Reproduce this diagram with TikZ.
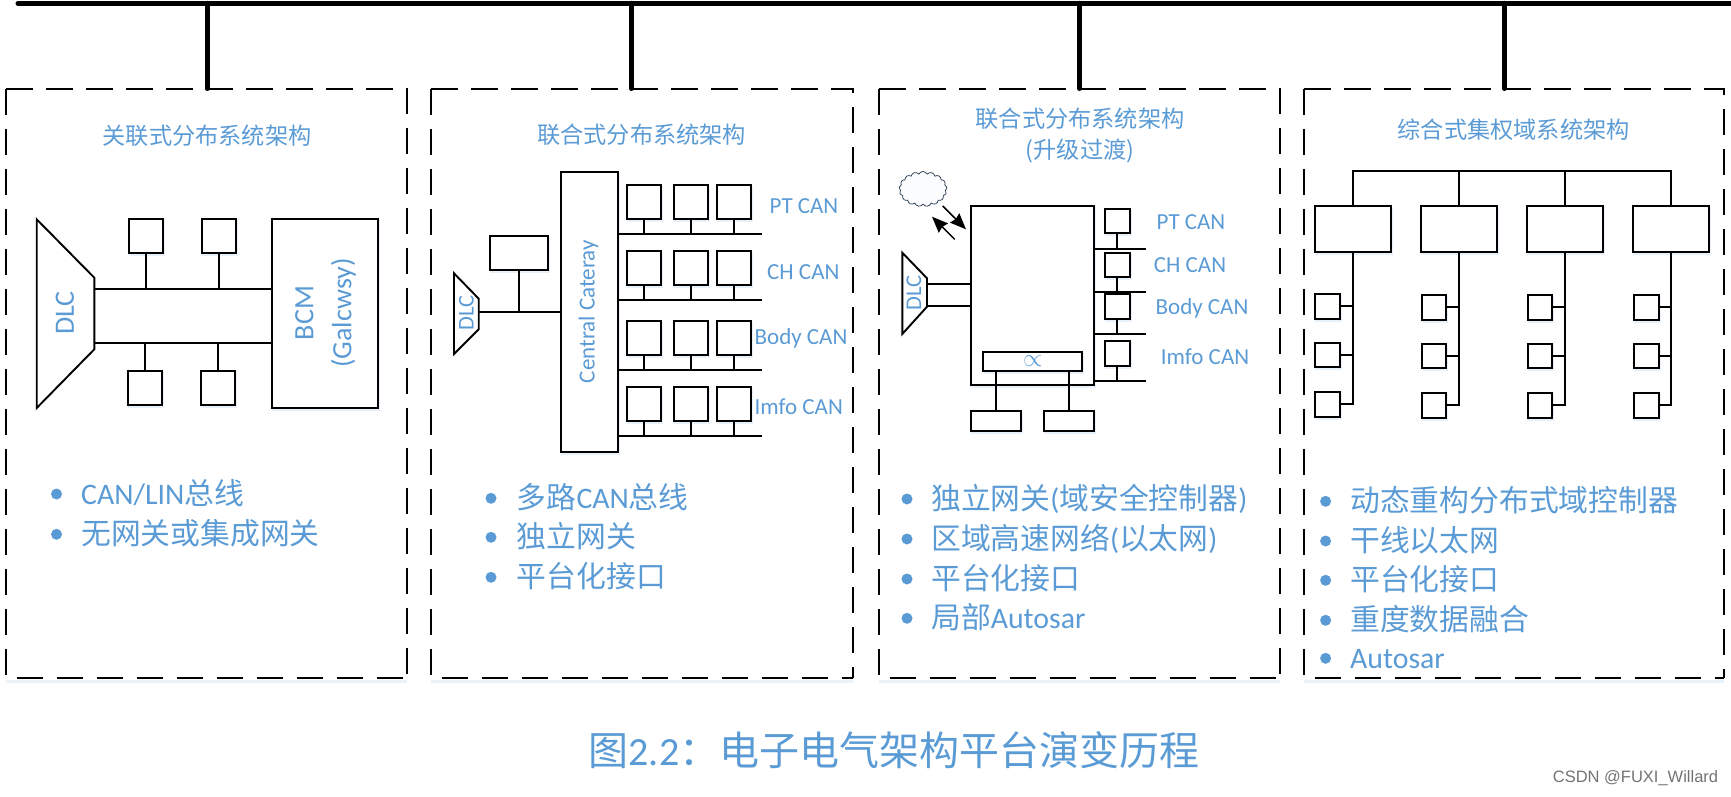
\documentclass[tikz,border=0pt]{standalone}
\usepackage{fontspec}
\setmainfont{Carlito}
\newfontfamily\cjk{Noto Sans CJK SC}
\newfontfamily\wmfont{Liberation Sans}
\usetikzlibrary{arrows.meta,shapes.symbols,shadows}
\definecolor{accent}{HTML}{5B9BD5}
\newcommand{\zh}[1]{{\cjk #1}}
\tikzset{
  x=1pt,y=-1pt,
  boxn/.style={draw=black,fill=white,line width=1.9pt,inner sep=0pt,outer sep=0pt,
    copy shadow={shadow xshift=1pt,shadow yshift=-2pt,draw=accent,opacity=.14,fill=none}},
  panelframe/.style={inner sep=0pt,outer sep=0pt},
  dashedge/.style={draw=black,line width=2pt,dash pattern=on 26.7pt off 13.3pt},
  wire/.style={draw=black,line width=1.9pt},
  trunk/.style={draw=black,line width=5pt,line cap=round},
  ttl/.style={text=accent,inner sep=0pt,align=center,font=\fontsize{23.2}{31}\selectfont\cjk},
  lab/.style={text=accent,inner sep=0pt,font=\fontsize{23}{28}\selectfont},
  vlab/.style={text=accent,inner sep=0pt,rotate=90,font=\fontsize{28}{34}\selectfont},
  vlabs/.style={text=accent,inner sep=0pt,rotate=90,font=\fontsize{22.5}{27}\selectfont},
  btxt/.style={text=accent,inner sep=0pt,anchor=base west,font=\fontsize{29.8}{34}\selectfont},
  bdot/.style={circle,fill=accent,inner sep=0pt,minimum size=11pt},
  harrow/.style={draw=black,line width=1.5pt,-{Stealth[length=16pt,width=13pt,inset=1.5pt]}},
  trap/.style={draw=black,fill=white,line width=1.9pt,line join=miter},
}
\newcommand{\bx}[5]{%
  \pgfmathsetmacro\bxw{#4-(#2)}\pgfmathsetmacro\bxh{#5-(#3)}%
  \node[boxn,minimum width=\bxw pt,minimum height=\bxh pt] (#1) at ({(#2+#4)/2},{(#3+#5)/2}) {};}
\newcommand{\panel}[5]{%
  \pgfmathsetmacro\bxw{#4-(#2)}\pgfmathsetmacro\bxh{#5-(#3)}%
  \node[panelframe,minimum width=\bxw pt,minimum height=\bxh pt] (#1) at ({(#2+#4)/2},{(#3+#5)/2}) {};
  \draw[draw=accent,opacity=.12,line width=3pt] ([yshift=-3pt]#1.south west) -- ([yshift=-3pt]#1.south east);
  \draw[dashedge] (#1.north west) -- (#1.north east) -- (#1.south east);
  \draw[dashedge] (#1.north west) -- (#1.south west) -- (#1.south east);}
\newcommand{\bul}[5]{%
  \node[bdot] (#1d) at (#2,#4) {};
  \node[btxt] (#1t) at (#3,#4+10) {#5};}
\begin{document}
\begin{tikzpicture}
\useasboundingbox (0,0) rectangle (1731,796);
% trunk
\coordinate (busL) at (18,3.3);
\coordinate (busR) at (1733,3.3);
\panel{p1}{6}{88.5}{407}{678}
\panel{p2}{431}{88.5}{853}{678}
\panel{p3}{879}{88.5}{1280}{678}
\panel{p4}{1304}{88.5}{1724}{678}
\coordinate (j1) at (207,88.5);
\coordinate (j2) at (631.3,88.5);
\coordinate (j3) at (1079.5,88.5);
\coordinate (j4) at (1504.3,88.5);
\draw[trunk] (busL) -- (busR);
\foreach \j in {j1,j2,j3,j4} \draw[trunk] (\j |- busL) -- (\j);
% panel titles
\node[ttl] (t1) at (207,136) {关联式分布系统架构};
\node[ttl] (t2) at (641.7,135) {联合式分布系统架构};
\node[ttl] (t3) at (1080,135) {联合式分布系统架构\\(升级过渡)};
\node[ttl] (t4) at (1513.7,130) {综合式集权域系统架构};

% ---------- panel 1
\coordinate (a1) at (36.7,219.3); \coordinate (a2) at (94.3,277.7);
\coordinate (a3) at (94.3,349.3); \coordinate (a4) at (36.7,408);
\draw[trap] (a1) -- (a2) -- (a3) -- (a4) -- cycle;
\node[vlab] (dlc1) at (65,313) {DLC};
\bx{bcm}{271.7}{219.3}{378}{408}
\node[vlab,align=center,font=\fontsize{28}{38}\selectfont] (bcmt) at (325.5,313) {BCM\\(Galcwsy)};
\coordinate (u1) at (94.3,288.7); \coordinate (l1) at (94.3,342.7);
\draw[wire] (u1) -- (u1 -| bcm.west);
\draw[wire] (l1) -- (l1 -| bcm.west);
\bx{u1a}{129.3}{219.3}{163.3}{253.3}
\bx{u1b}{202.3}{219.3}{236.3}{253.3}
\bx{l1a}{128}{371}{162.3}{405.3}
\bx{l1b}{201}{371}{235.3}{405.3}
\draw[wire] (u1a.south) -- (u1a.south |- u1);
\draw[wire] (u1b.south) -- (u1b.south |- u1);
\draw[wire] (l1a.north) -- (l1a.north |- l1);
\draw[wire] (l1b.north) -- (l1b.north |- l1);
\bul{b1a}{56.5}{81}{494}{CAN/LIN\zh{总线}}
\bul{b1b}{56.5}{81}{534.3}{\zh{无网关或集成网关}}

% ---------- panel 2
\coordinate (c1) at (454,273.3); \coordinate (c2) at (478.7,298.7);
\coordinate (c3) at (478.7,329.3); \coordinate (c4) at (454,354);
\draw[trap] (c1) -- (c2) -- (c3) -- (c4) -- cycle;
\node[vlabs] (dlc2) at (466.5,312.7) {DLC};
\bx{gw2}{560.7}{171.7}{618.3}{452.3}
\node[vlabs,font=\fontsize{23}{28}\selectfont] (gw2t) at (588.5,311.7) {Central Cateray};
\bx{m2}{490}{236.3}{547.7}{270.3}
\coordinate (dl2) at (478.7,312);
\draw[wire] (dl2) -- (dl2 -| gw2.west);
\draw[wire] (m2.south) -- (m2.south |- dl2);
\foreach \r/\yt/\yb/\yl in {a/185.3/219.3/234.3,b/251.3/285.3/300.3,c/320.7/354.7/369.7,d/386.7/420.7/435.7}{
  \coordinate (bl\r) at (618.3,\yl);
  \coordinate (br\r) at (761.7,\yl);
  \draw[wire] (bl\r) -- (br\r);
  \foreach \c/\xl/\xr in {x/626.7/660.7,y/673.7/708,z/716.7/750.7}{
    \bx{n\r\c}{\xl}{\yt}{\xr}{\yb}
    \draw[wire] (n\r\c.south) -- (n\r\c.south |- bl\r);
  }
}
\node[lab] (l2a) at (804,205.7) {PT CAN};
\node[lab] (l2b) at (803.3,271.7) {CH CAN};
\node[lab] (l2c) at (801,338.7) {Body CAN};
\node[lab] (l2d) at (798.7,406.7) {Imfo CAN};
\bul{b2a}{491}{516.7}{498.3}{\zh{多路}CAN\zh{总线}}
\bul{b2b}{491}{516.7}{537.3}{\zh{独立网关}}
\bul{b2c}{491}{516.7}{577.3}{\zh{平台化接口}}

% ---------- panel 3
\node[cloud,cloud puffs=17,cloud puff arc=130,aspect=1.4,draw=black!65!accent,line width=.7pt,fill=accent!3,
  inner sep=0pt,minimum width=48pt,minimum height=35pt] (cl) at (923,189) {};
\bx{big}{971}{206}{1094}{385}
\coordinate (ar1) at (942.7,206); \coordinate (ar2) at (966,229.3);
\coordinate (ar3) at (954.7,239.3); \coordinate (ar4) at (932,216.7);
\draw[harrow] (ar1) -- (ar2);
\draw[harrow] (ar3) -- (ar4);
\coordinate (e1) at (902.3,252.7); \coordinate (e2) at (927,278.3);
\coordinate (e3) at (927,306.7); \coordinate (e4) at (902.3,334);
\draw[trap] (e1) -- (e2) -- (e3) -- (e4) -- cycle;
\node[vlabs] (dlc3) at (914,293.3) {DLC};
\coordinate (el1) at (927,283.7); \coordinate (el2) at (927,306);
\draw[wire] (el1) -- (el1 -| big.west);
\draw[wire] (el2) -- (el2 -| big.west);
\bx{inn}{982.7}{351.7}{1082.3}{371.3}
\node[text=accent,inner sep=0pt,font=\fontsize{24}{28}\selectfont] (prop) at (1032.7,361.3) {$\propto$};
\bx{fa}{971}{411}{1021}{431}
\bx{fb}{1044}{411}{1094}{431}
\coordinate (inna) at (996,371.3); \coordinate (innb) at (1069,371.3);
\draw[wire] (inna) -- (inna |- fa.north);
\draw[wire] (innb) -- (innb |- fb.north);
\foreach \k/\yt/\yb/\yl in {a/209/233.3/248.7,b/252.7/277/291.7,c/294.3/318.7/333.7,d/341.3/365.7/380.7}{
  \bx{q\k}{1105}{\yt}{1129.7}{\yb}
  \coordinate (ql\k) at (1094,\yl);
  \coordinate (qr\k) at (1146,\yl);
  \draw[wire] (ql\k) -- (qr\k);
  \draw[wire] (q\k.south) -- (q\k.south |- ql\k);
}
\node[lab] (l3a) at (1191,222.3) {PT CAN};
\node[lab] (l3b) at (1190,265.3) {CH CAN};
\node[lab] (l3c) at (1202,308.7) {Body CAN};
\node[lab] (l3d) at (1205,356.3) {Imfo CAN};
\bul{b3a}{907}{931}{499}{\zh{独立网关}(\zh{域安全控制器})}
\bul{b3b}{907}{931}{539}{\zh{区域高速网络}(\zh{以太网})}
\bul{b3c}{907}{931}{579}{\zh{平台化接口}}
\bul{b3d}{907}{931}{618.3}{\zh{局部}Autosar}

% ---------- panel 4
\coordinate (bar) at (1512,170.7);
\foreach \d/\xl/\xr in {1/1315.3/1391,2/1421.3/1497,3/1527.3/1603,4/1633.3/1709}{
  \bx{d\d}{\xl}{206}{\xr}{252.3}
}
\draw[wire] (d1.north) |- (bar) -| (d4.north);
\draw[wire] (d2.north) -- (d2.north |- bar);
\draw[wire] (d3.north) -- (d3.north |- bar);
\bx{s1a}{1315.3}{294}{1340.3}{318.7}
\bx{s1b}{1315.3}{343}{1340.3}{367.3}
\bx{s1c}{1315.3}{392}{1340.3}{416.7}
\foreach \d/\xl/\xr in {2/1421.7/1446.3,3/1527.7/1552.3,4/1633.7/1658.7}{
  \bx{s\d a}{\xl}{295}{\xr}{319.7}
  \bx{s\d b}{\xl}{344}{\xr}{368.3}
  \bx{s\d c}{\xl}{393}{\xr}{417.7}
}
\foreach \d in {1,2,3,4}{
  \draw[wire] (d\d.south) |- (s\d c.east);
  \draw[wire] (s\d a.east) -- (s\d a.east -| d\d.south);
  \draw[wire] (s\d b.east) -- (s\d b.east -| d\d.south);
}
\bul{b4a}{1325.6}{1350}{501.3}{\zh{动态重构分布式域控制器}}
\bul{b4b}{1325.6}{1350}{541}{\zh{干线以太网}}
\bul{b4c}{1325.6}{1350}{580.3}{\zh{平台化接口}}
\bul{b4d}{1325.6}{1350}{620.3}{\zh{重度数据融合}}
\bul{b4e}{1325.6}{1350}{658.3}{Autosar}

% ---------- caption and mark
\node[text=accent,inner sep=0pt,font=\fontsize{40}{46}\selectfont] (cap) at (894,750) {\zh{图}2.2\zh{：电子电气架构平台演变历程}};
\node[text=black!55,inner sep=0pt,font=\fontsize{16.5}{20}\selectfont\wmfont] (wm) at (1635.5,778) {CSDN @FUXI\_Willard};
\end{tikzpicture}
\end{document}
